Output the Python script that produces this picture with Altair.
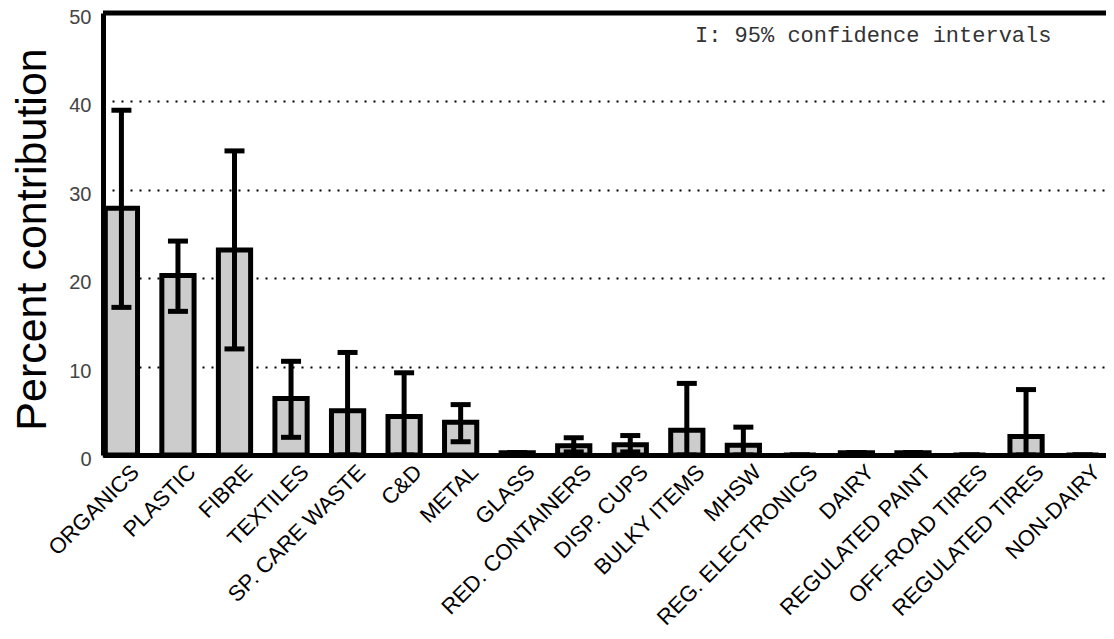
import altair as alt
import pandas as pd

categories = ["ORGANICS", "PLASTIC", "FIBRE", "TEXTILES", "SP. CARE WASTE", "C&D",
              "METAL", "GLASS", "RED. CONTAINERS", "DISP. CUPS", "BULKY ITEMS", "MHSW",
              "REG. ELECTRONICS", "DAIRY", "REGULATED PAINT", "OFF-ROAD TIRES",
              "REGULATED TIRES", "NON-DAIRY"]
means = [27.9, 20.3, 23.2, 6.4, 5.0, 4.35, 3.7, 0.25, 1.05, 1.15, 2.8, 1.1,
         0.0, 0.25, 0.25, 0.0, 2.1, 0.0]
upper = [39.0, 24.2, 34.4, 10.6, 11.6, 9.3, 5.7, 0.25, 1.95, 2.2, 8.1, 3.15,
         0.0, 0.25, 0.25, 0.0, 7.4, 0.0]
lower = [16.7, 16.25, 12.0, 2.0, 0.0, 0.0, 1.5, 0.25, 0.35, 0.35, 0.0, 0.0,
         0.0, 0.25, 0.25, 0.0, 0.0, 0.0]
y_ticks = [0, 10, 20, 30, 40, 50]
note = "I: 95% confidence intervals"

df = pd.DataFrame({"cat": categories, "mean": means, "hi": upper, "lo": lower})

x_enc = alt.X(
    "cat:N", sort=categories,
    scale=alt.Scale(paddingInner=0.43, paddingOuter=0.085, align=0.24),
    axis=alt.Axis(title=None, labelAngle=-45, labelAlign="right", labelBaseline="top",
                  labelFontSize=22, labelFont="Liberation Sans", labelColor="black",
                  labelPadding=6, labelOffset=7, ticks=False, tickSize=0,
                  domainColor="black", domainWidth=5, labelOverlap=False, labelLimit=0,
                  grid=False),
)
y_scale = alt.Scale(domain=[0, 50], nice=False)
y_axis = alt.Axis(
    values=y_ticks, grid=True, gridDash=[2, 7], gridColor="black", gridWidth=2,
    gridOpacity=1, ticks=False, tickSize=0, labelFontSize=20, labelFont="Liberation Sans",
    labelColor="#444444", labelPadding=12, labelOffset=4.5, domainColor="black",
    domainWidth=5,
    title="Percent contribution", titleFontSize=43, titleFont="Liberation Sans",
    titleFontWeight="normal", titleColor="black", titleAngle=270, titleX=-58, titleY=226,
    titleAlign="center", titleBaseline="alphabetic",
)

base = alt.Chart(df)
bars = base.mark_bar(fill="#cccccc", stroke="black", strokeWidth=5, opacity=1).encode(
    x=x_enc, y=alt.Y("mean:Q", scale=y_scale, axis=y_axis)
)
err = base.mark_rule(color="black", strokeWidth=5).encode(
    x=alt.X("cat:N", sort=categories), y="lo:Q", y2="hi:Q"
)
cap_hi = base.mark_tick(color="black", size=20, thickness=5, opacity=1).encode(
    x=alt.X("cat:N", sort=categories), y="hi:Q"
)
cap_lo = base.mark_tick(color="black", size=20, thickness=5, opacity=1).encode(
    x=alt.X("cat:N", sort=categories), y="lo:Q"
)
top = alt.Chart(pd.DataFrame({"v": [50]})).mark_rule(color="black", strokeWidth=5).encode(
    y="v:Q"
)
txt = alt.Chart(pd.DataFrame({"t": [note]})).mark_text(
    align="left", baseline="alphabetic", font="Liberation Mono", fontSize=22, color="#333333"
).encode(x=alt.value(592), y=alt.value(28.5), text="t:N")

chart = alt.layer(bars, err, cap_hi, cap_lo, top, txt).properties(
    width=1003, height=442,
    autosize=alt.AutoSizeParams(type="none"),
    padding={"left": 95, "top": 5, "right": 0, "bottom": 180},
).configure_view(stroke=None).configure(background="white")

chart.save("out.html", embed_options={"renderer": "svg", "actions": False})
